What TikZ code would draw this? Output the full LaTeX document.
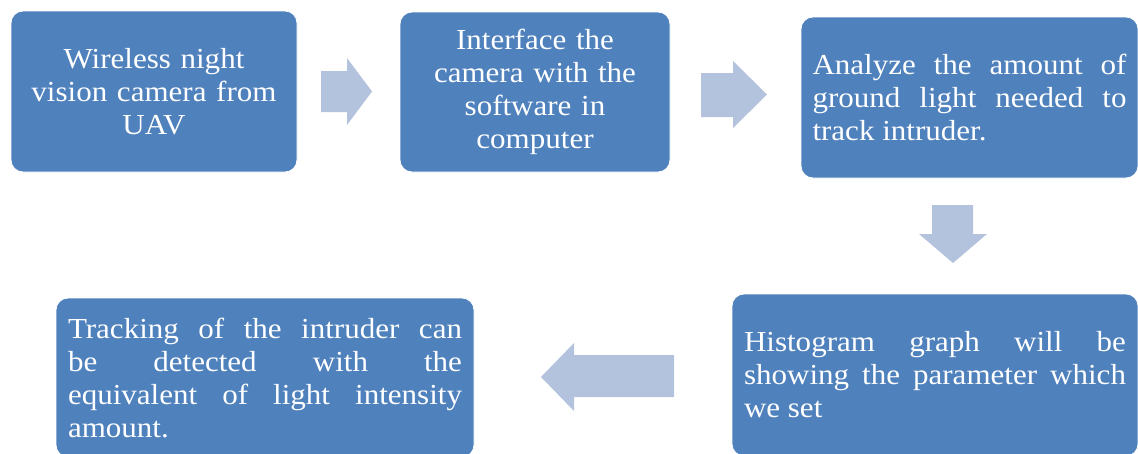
\documentclass[tikz,border=0pt]{standalone}
\usepackage{fontspec}
\setmainfont{Liberation Serif}[FakeStretch=1.07]
\definecolor{boxblue}{RGB}{79,129,189}
\definecolor{arrowblue}{RGB}{179,194,221}
\tikzset{
  stepbox/.style={draw=white, line width=0.8pt, fill=boxblue, rounded corners=12pt,
    text=white, inner sep=0pt, font=\fontsize{29}{33}\selectfont,
    execute at begin node={\hyphenpenalty=10000\relax\tolerance=9999\relax}},
  blockarrow/.style={fill=arrowblue, draw=none}
}
\begin{document}
\begin{tikzpicture}[x=1pt,y=-1pt]
\useasboundingbox (0,0) rectangle (1138,453);
\clip (0,0) rectangle (1138,453);
% boxes
\node[stepbox, minimum width=286pt, minimum height=161pt, text width=262pt, align=center] (b1) at (154,91.5)
  {Wireless night\\vision camera from\\UAV};
\node[stepbox, minimum width=270pt, minimum height=160pt, text width=246pt, align=center] (b2) at (535,92)
  {Interface the\\camera with the\\software in\\computer};
\node[stepbox, minimum width=337pt, minimum height=161pt, text width=314pt, align=justify] (b3) at (969.5,97.5)
  {Analyze the amount of\linebreak ground light needed to\linebreak track intruder.};
\node[stepbox, minimum width=406pt, minimum height=162pt, text width=382pt, align=justify] (b4) at (935,375)
  {Histogram graph will be\linebreak showing the parameter which\linebreak we set};
\node[stepbox, minimum width=418pt, minimum height=159pt, text width=394pt, align=justify] (b5) at (265,377.5)
  {Tracking of the intruder can\linebreak be detected with the\linebreak equivalent of light intensity\linebreak amount.};
% block arrows
\fill[blockarrow] (321,71) -- (347,71) -- (347,58) -- (372,91.5) -- (347,125) -- (347,112) -- (321,112) -- cycle;
\fill[blockarrow] (701,73) -- (733,73) -- (733,61) -- (767,94.5) -- (733,128) -- (733,117) -- (701,117) -- cycle;
\fill[blockarrow] (932,205) -- (973,205) -- (973,234) -- (987,234) -- (953,263) -- (919,234) -- (932,234) -- cycle;
\fill[blockarrow] (674,355) -- (574,355) -- (574,343) -- (541,377) -- (574,411) -- (574,397) -- (674,397) -- cycle;
\end{tikzpicture}
\end{document}
